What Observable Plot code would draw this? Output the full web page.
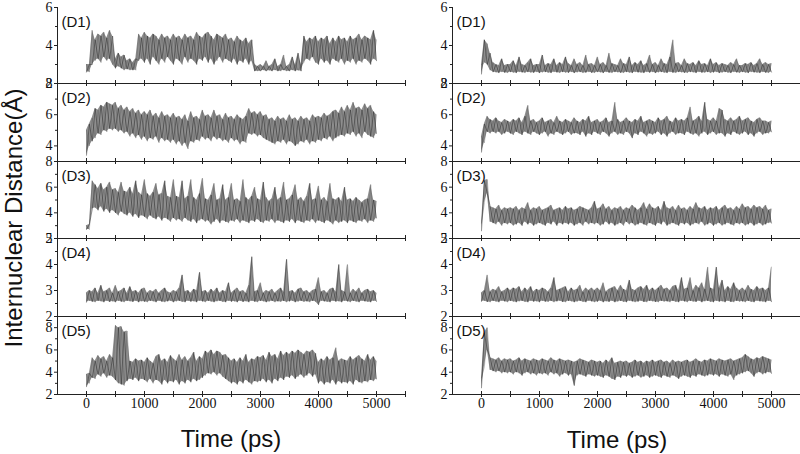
<!DOCTYPE html>
<html><head><meta charset="utf-8">
<script src="https://cdn.jsdelivr.net/npm/d3@7"></script>
<script src="https://cdn.jsdelivr.net/npm/@observablehq/plot@0.6"></script>
<style>
body{margin:0;background:#fff}
#chart{position:relative;width:800px;height:454px;overflow:hidden;background:#fff}
#chart svg{overflow:visible}
.panel{position:absolute}
</style>
</head><body><div id="chart"></div>
<script>
// ---- data: lower and upper edge of each noisy trace, read every 50 ps from 0 to 5000 ps ----
const timeStep = 50;
const time = d3.range(0, 5001, timeStep);
const panelLabels = ["(D1)", "(D2)", "(D3)", "(D4)", "(D5)"];
const yDomains = [[2, 6], [3, 8], [2, 8], [2, 5], [2, 9]];
const yTickLabels = [[2, 4, 6], [4, 6, 8], [2, 4, 6, 8], [2, 3, 4, 5], [2, 4, 6, 8]];
const yMinorTicks = [[3, 5], [3, 5, 7], [3, 5, 7], [2.5, 3.5, 4.5], [3, 5, 7, 9]];
const xTickLabels = [0, 1000, 2000, 3000, 4000, 5000];
const xMinorTicks = [0, 500, 1000, 1500, 2000, 2500, 3000, 3500, 4000, 4500, 5000, 5500];

const left_D1_lo = [2.6,2.6,3.0,3.2,3.3,3.1,3.4,3.2,3.3,3.0,
  2.8,2.9,2.8,2.7,2.75,2.7,2.7,2.7,3.2,3.3,
  3.1,3.3,3.0,3.4,3.2,3.0,3.3,3.1,3.4,3.2,
  3.0,3.3,3.2,3.0,3.4,3.1,3.3,3.2,3.0,3.3,
  3.2,3.4,3.1,3.3,3.0,3.2,3.4,3.1,3.3,3.2,
  3.1,3.3,3.0,3.2,3.1,3.3,3.0,3.2,2.65,2.65,
  2.65,2.7,2.65,2.68,2.65,2.7,2.65,2.65,2.7,2.65,
  2.65,2.7,2.65,2.68,2.65,3.1,3.3,3.2,3.4,3.1,
  3.0,3.3,3.1,3.2,3.0,3.3,3.2,3.1,3.3,3.0,
  3.2,3.1,3.3,3.0,3.2,3.1,3.3,3.2,3.0,3.3,
  3.2];
const left_D1_hi = [3.0,3.0,4.8,4.3,4.6,4.5,4.7,4.4,4.8,4.5,
  3.3,3.6,3.4,3.5,3.2,3.3,3.1,3.3,4.6,4.4,
  4.7,4.5,4.4,4.6,4.5,4.3,4.6,4.4,4.5,4.3,
  4.6,4.4,4.5,4.3,4.6,4.4,4.5,4.3,4.7,4.5,
  4.4,4.6,4.7,4.5,4.3,4.6,4.5,4.4,4.6,4.3,
  4.4,4.2,4.5,4.3,4.2,4.4,4.1,4.3,3.0,2.9,
  3.0,2.9,3.2,2.9,3.0,3.3,2.9,3.0,3.5,2.9,
  3.0,3.4,3.0,3.6,3.0,4.5,4.2,4.4,4.3,4.5,
  4.2,4.4,4.3,4.5,4.1,4.4,4.2,4.5,4.3,4.4,
  4.2,4.5,4.3,4.4,4.6,4.3,4.5,4.4,4.3,4.8,
  4.3];
const left_D2_lo = [3.4,4.0,4.3,4.5,4.8,4.7,5.0,4.9,5.1,5.0,
  5.1,4.9,5.0,4.8,4.9,4.6,4.8,4.5,4.7,4.4,
  4.6,4.3,4.5,4.4,4.6,4.2,4.5,4.3,4.4,4.2,
  4.4,4.1,4.3,4.0,4.2,3.8,4.3,4.2,4.4,4.3,
  4.6,4.4,4.5,4.3,4.6,4.4,4.5,4.3,4.4,4.2,
  4.5,4.3,4.4,4.1,4.3,4.2,4.8,4.7,4.8,4.6,
  4.7,4.5,4.4,4.3,4.2,4.1,4.3,4.2,4.4,4.1,
  4.3,4.2,4.0,4.1,4.3,4.2,4.4,4.1,4.3,4.2,
  4.4,4.3,4.5,4.4,4.6,4.3,4.5,4.6,4.7,4.6,
  4.8,4.7,4.9,4.6,4.8,4.5,4.9,4.7,4.6,4.5,
  4.8];
const left_D2_hi = [5.0,5.4,5.8,6.4,6.3,6.6,6.5,6.8,6.7,6.6,
  6.8,6.4,6.6,6.3,6.5,6.2,6.4,6.1,6.3,6.0,
  6.2,6.0,6.3,5.9,6.1,5.8,6.2,5.9,6.0,5.8,
  6.1,5.8,5.9,5.7,6.0,5.6,6.2,5.8,5.9,5.7,
  6.3,5.9,6.0,5.8,6.3,5.9,6.0,5.7,6.1,5.8,
  5.9,5.7,6.0,5.8,5.7,5.9,6.4,6.1,6.2,6.0,
  6.2,5.9,6.0,5.7,5.8,5.6,5.9,5.7,5.8,5.6,
  6.0,5.7,5.8,5.6,5.9,5.7,5.8,5.6,6.0,5.8,
  5.9,5.8,6.1,5.9,6.0,6.2,6.3,6.1,6.5,6.2,
  6.6,6.3,6.8,6.4,6.5,6.3,6.7,6.4,6.6,6.2,
  6.0];
const left_D3_lo = [2.7,2.7,4.3,4.4,4.2,4.5,4.1,4.3,4.0,4.2,
  4.0,3.8,4.1,3.9,3.8,4.0,3.7,3.9,3.6,3.8,
  3.7,3.5,3.8,3.6,3.5,3.7,3.4,3.6,3.5,3.3,
  3.6,3.4,3.5,3.3,3.6,3.4,3.3,3.5,3.2,3.4,
  3.5,3.3,3.4,3.1,3.3,3.5,3.2,3.4,3.3,3.2,
  3.4,3.3,3.5,3.2,3.4,3.3,3.2,3.4,3.3,3.5,
  3.3,3.2,3.4,3.3,3.5,3.2,3.4,3.3,3.2,3.4,
  3.3,3.5,3.2,3.4,3.3,3.2,3.4,3.3,3.5,3.2,
  3.4,3.3,3.2,3.4,3.3,3.1,3.4,3.2,3.3,3.4,
  3.2,3.4,3.3,3.2,3.4,3.3,3.5,3.2,3.4,3.3,
  3.6];
const left_D3_hi = [3.0,3.1,6.5,6.2,5.9,6.3,5.8,6.0,6.4,5.8,
  5.9,5.6,6.4,5.7,5.6,6.0,5.5,6.5,5.6,5.4,
  6.6,5.5,5.3,5.6,6.3,5.4,5.5,6.5,5.3,5.2,
  6.6,5.3,5.2,6.5,5.1,5.3,6.6,5.2,5.0,5.5,
  6.7,5.1,5.0,5.4,6.3,5.0,5.1,6.2,5.0,5.2,
  6.3,5.0,5.1,4.9,6.6,5.2,5.0,5.3,6.0,5.1,
  5.0,6.4,5.2,4.9,5.1,6.0,5.0,5.2,6.4,5.0,
  5.1,5.4,6.2,5.0,5.2,4.9,5.3,6.3,5.0,5.1,
  6.1,5.0,5.2,4.9,6.3,5.1,5.0,5.2,4.9,6.0,
  5.0,5.1,4.9,5.2,5.0,4.8,5.0,5.1,6.2,5.0,
  4.9];
const left_D4_lo = [2.55,2.6,2.57,2.55,2.6,2.58,2.55,2.6,2.56,2.58,
  2.55,2.6,2.57,2.55,2.6,2.58,2.56,2.6,2.55,2.58,
  2.57,2.55,2.6,2.58,2.55,2.6,2.57,2.55,2.58,2.6,
  2.55,2.58,2.6,2.56,2.55,2.6,2.57,2.58,2.55,2.6,
  2.58,2.55,2.6,2.57,2.55,2.58,2.6,2.56,2.55,2.6,
  2.57,2.58,2.55,2.6,2.56,2.58,2.55,2.6,2.57,2.55,
  2.6,2.58,2.55,2.57,2.6,2.55,2.58,2.56,2.6,2.55,
  2.58,2.6,2.55,2.57,2.6,2.56,2.58,2.55,2.6,2.57,
  2.45,2.6,2.58,2.56,2.55,2.6,2.57,2.58,2.55,2.6,
  2.58,2.55,2.6,2.57,2.55,2.6,2.58,2.56,2.55,2.6,
  2.58];
const left_D4_hi = [2.9,3.0,2.95,3.1,2.9,3.2,2.95,3.0,3.1,2.9,
  3.2,2.95,3.0,3.1,2.9,3.15,2.95,3.0,2.9,3.05,
  3.1,2.9,3.0,2.95,3.05,2.9,3.0,3.1,2.95,2.9,
  3.0,2.95,3.1,3.6,2.95,3.0,2.9,3.05,3.0,3.7,
  2.95,3.0,2.9,3.05,2.95,3.1,2.9,3.0,2.95,3.3,
  2.9,3.0,3.1,2.95,3.0,2.9,3.2,4.3,2.95,3.0,
  3.3,2.9,3.0,2.95,3.05,2.9,3.0,3.1,2.95,4.2,
  2.95,3.0,2.9,3.05,3.1,2.95,3.0,2.9,3.0,3.05,
  3.5,2.95,3.0,2.9,3.05,3.1,2.95,4.0,3.0,2.95,
  4.0,2.9,3.05,2.95,3.1,2.9,3.0,3.05,2.95,3.0,
  2.9];
const left_D5_lo = [2.7,3.0,3.5,3.4,3.8,3.6,3.9,3.5,3.7,3.6,
  3.3,3.0,2.9,2.8,3.2,3.4,3.3,3.5,3.2,3.4,
  3.3,3.1,3.4,3.0,3.3,3.2,2.9,3.3,3.0,3.2,
  3.1,3.3,2.9,3.2,3.0,3.3,3.1,3.4,3.2,3.3,
  3.5,3.7,3.9,3.8,4.0,3.7,3.9,3.6,3.4,3.2,
  3.0,3.1,2.9,3.2,3.0,3.3,3.1,2.9,3.2,3.1,
  3.2,3.4,3.1,3.3,3.0,3.4,3.2,3.5,3.3,3.6,
  3.5,3.7,3.4,3.6,3.8,3.5,3.7,3.9,3.6,3.8,
  3.0,3.2,2.9,3.1,3.0,3.3,2.9,3.2,3.0,3.1,
  3.0,3.2,2.9,3.3,3.1,3.0,3.2,3.1,3.3,3.2,
  3.4];
const left_D5_hi = [3.8,3.9,5.3,5.0,5.5,5.2,5.4,5.0,5.6,5.3,
  8.2,8.0,8.1,7.6,7.7,5.0,4.9,5.2,5.0,5.1,
  4.9,5.3,5.0,4.8,5.4,5.6,5.0,5.2,4.9,5.5,
  5.2,5.0,5.6,5.1,5.4,5.0,5.3,5.8,5.0,5.4,
  5.2,5.9,5.7,6.0,5.6,5.9,5.8,5.5,5.6,5.3,
  5.0,5.2,4.9,5.3,5.0,5.6,4.9,5.2,5.1,5.4,
  5.3,5.5,5.1,5.8,5.4,5.6,5.2,5.9,5.5,5.8,
  5.6,5.9,5.7,6.0,5.8,5.6,5.9,5.8,6.0,5.7,
  4.9,5.2,5.0,5.4,5.1,5.3,6.2,5.0,5.2,5.1,
  5.0,5.4,5.1,5.3,5.5,5.2,5.0,5.6,5.1,5.4,
  5.0];
const right_D1_lo = [2.5,3.1,3.0,2.7,2.6,2.58,2.55,2.6,2.57,2.55,
  2.6,2.57,2.55,2.6,2.58,2.55,2.6,2.57,2.56,2.6,
  2.55,2.58,2.6,2.56,2.55,2.6,2.58,2.55,2.6,2.57,
  2.56,2.6,2.55,2.58,2.6,2.55,2.57,2.6,2.56,2.55,
  2.6,2.58,2.55,2.6,2.57,2.55,2.6,2.58,2.56,2.55,
  2.6,2.57,2.55,2.6,2.58,2.56,2.55,2.6,2.57,2.6,
  2.55,2.58,2.6,2.56,2.55,2.6,2.57,2.55,2.6,2.58,
  2.56,2.55,2.6,2.58,2.55,2.6,2.57,2.56,2.6,2.55,
  2.58,2.6,2.55,2.57,2.6,2.56,2.55,2.6,2.58,2.55,
  2.6,2.57,2.55,2.6,2.58,2.56,2.55,2.6,2.57,2.55,
  2.6];
const right_D1_hi = [3.0,4.3,4.1,3.6,3.1,3.0,2.95,3.3,2.95,3.0,
  3.0,3.2,2.95,3.4,3.0,2.95,3.1,3.3,2.95,3.0,
  3.0,3.5,2.95,3.05,3.0,3.3,2.95,3.1,3.0,3.4,
  3.05,2.95,3.3,3.0,3.1,2.95,3.5,3.0,3.05,2.95,
  3.4,3.0,3.1,2.95,3.6,3.05,3.0,2.95,3.3,3.05,
  3.0,3.4,2.95,3.1,3.0,3.2,2.95,3.05,3.5,3.0,
  3.1,2.95,3.3,3.05,3.0,3.4,4.3,3.05,3.1,2.95,
  3.3,3.05,3.0,3.1,2.95,3.2,3.0,3.05,2.95,3.3,
  3.0,3.1,2.95,3.05,3.0,2.95,3.1,3.0,3.3,2.95,
  2.95,3.05,3.0,3.1,2.95,3.05,3.3,3.0,3.1,3.0,
  3.05];
const right_D2_lo = [3.6,4.2,4.9,4.8,4.9,4.8,4.9,4.7,4.8,4.9,
  4.8,4.7,4.9,4.8,4.7,4.9,4.8,4.7,4.9,4.8,
  4.7,4.8,4.9,4.6,4.8,4.7,4.9,4.8,4.7,4.8,
  4.9,4.7,4.8,4.8,4.7,4.9,4.6,4.8,4.7,4.9,
  4.8,4.7,4.9,4.8,4.6,4.8,4.9,4.7,4.8,4.7,
  4.9,4.8,4.5,4.8,4.7,4.9,4.8,4.6,4.8,4.7,
  4.8,4.9,4.7,4.8,4.6,4.8,4.9,4.7,4.8,4.8,
  4.7,4.9,4.8,4.7,4.8,4.6,4.8,4.9,4.7,4.8,
  4.9,4.7,4.8,4.8,4.6,4.8,4.7,4.9,4.8,4.7,
  4.8,4.9,4.7,4.8,4.6,4.8,4.9,4.7,4.8,4.8,
  4.9];
const right_D2_hi = [4.6,5.4,5.9,5.7,5.6,5.8,5.6,5.5,5.7,5.6,
  5.5,5.7,5.6,5.8,5.5,5.9,6.6,5.6,5.7,5.5,
  5.6,5.8,5.5,5.6,5.7,5.5,5.9,5.6,5.5,5.7,
  5.6,5.5,5.8,5.6,5.5,5.7,5.6,5.9,5.5,5.6,
  5.7,5.5,5.6,5.8,5.5,5.6,6.8,5.7,5.5,5.6,
  5.8,5.6,5.5,5.7,5.6,5.9,5.5,5.6,5.7,5.6,
  5.5,5.8,5.6,5.7,5.9,5.6,5.5,5.8,5.6,5.7,
  5.6,5.8,6.5,5.6,5.7,5.9,5.6,6.8,5.7,5.6,
  5.8,5.6,6.4,6.3,5.7,5.6,5.8,5.6,5.7,5.9,
  5.6,5.7,5.8,5.6,5.5,5.7,5.8,5.6,5.6,5.5,
  5.6];
const right_D3_lo = [2.6,4.8,5.5,3.3,3.2,3.1,3.3,3.0,3.2,3.1,
  3.2,3.0,3.1,3.2,3.0,3.3,3.1,3.2,3.0,3.1,
  3.2,3.1,3.0,3.2,3.1,3.3,3.0,3.2,3.1,3.2,
  3.1,3.2,3.0,3.1,3.2,3.0,3.3,3.1,3.2,3.1,
  3.2,3.0,3.1,3.3,3.1,3.2,3.0,3.1,3.2,3.0,
  3.3,3.1,3.2,3.0,3.1,3.2,3.1,3.0,3.2,3.1,
  3.0,3.2,3.1,3.3,3.0,3.1,3.2,3.1,3.0,3.2,
  3.1,3.2,3.0,3.1,3.2,3.1,3.3,3.0,3.1,3.2,
  3.0,3.1,3.2,3.0,3.1,3.2,3.1,3.0,3.2,3.1,
  3.2,3.0,3.1,3.2,3.0,3.1,3.2,3.0,3.1,3.2,
  3.2];
const right_D3_hi = [3.2,6.5,6.6,4.5,4.4,4.3,4.6,4.2,4.4,4.3,
  4.4,4.3,4.5,4.2,4.4,4.3,4.8,4.2,4.4,4.3,
  4.5,4.2,4.3,4.4,4.6,4.2,4.3,4.4,4.2,4.5,
  4.3,4.4,4.2,4.3,4.5,4.4,4.3,4.2,4.4,4.9,
  4.3,4.4,4.7,4.3,4.5,4.2,4.4,4.3,4.5,4.2,
  4.4,4.3,4.6,4.4,4.2,4.4,4.8,4.3,4.7,4.4,
  4.3,4.5,4.2,4.9,4.4,4.3,4.5,4.2,4.6,4.3,
  4.4,4.2,4.5,4.3,4.8,4.4,4.3,4.5,4.2,4.4,
  4.3,4.5,4.2,4.4,4.6,4.3,4.4,4.2,4.5,4.3,
  4.7,4.4,4.5,4.3,4.6,4.4,4.5,4.3,4.6,4.2,
  4.3];
const right_D4_lo = [2.58,2.6,2.56,2.55,2.6,2.57,2.55,2.6,2.58,2.55,
  2.6,2.57,2.55,2.58,2.6,2.56,2.55,2.6,2.57,2.58,
  2.55,2.6,2.57,2.56,2.6,2.55,2.58,2.6,2.56,2.55,
  2.6,2.58,2.55,2.57,2.6,2.56,2.55,2.6,2.58,2.55,
  2.57,2.6,2.55,2.58,2.56,2.6,2.55,2.57,2.6,2.56,
  2.55,2.6,2.58,2.55,2.57,2.6,2.56,2.55,2.6,2.58,
  2.56,2.55,2.6,2.57,2.58,2.55,2.6,2.56,2.55,2.6,
  2.58,2.55,2.6,2.57,2.56,2.6,2.55,2.58,2.6,2.56,
  2.55,2.6,2.57,2.58,2.55,2.6,2.56,2.55,2.6,2.57,
  2.58,2.55,2.6,2.56,2.55,2.6,2.58,2.57,2.55,2.6,
  2.57];
const right_D4_hi = [2.9,3.0,3.6,2.95,3.05,3.0,3.15,2.95,3.0,3.1,
  3.0,3.1,3.05,3.15,2.95,3.1,3.0,3.15,2.95,3.05,
  3.0,3.1,3.05,2.95,3.1,3.5,3.0,3.05,3.1,3.15,
  2.95,3.1,3.0,3.05,3.2,2.95,3.1,3.0,3.1,3.0,
  3.1,3.0,3.3,2.95,3.05,3.1,3.15,3.0,3.2,3.05,
  3.0,3.4,3.05,3.0,3.1,3.15,3.05,3.2,3.0,3.1,
  3.0,3.1,3.2,3.05,3.1,3.0,3.15,3.2,3.0,3.5,
  3.05,3.1,3.5,3.0,3.2,3.1,3.3,3.05,3.9,3.1,
  3.05,3.9,3.1,3.4,3.0,3.15,3.05,3.3,3.1,3.0,
  3.1,3.0,3.2,3.05,3.0,3.15,3.05,3.1,3.0,3.1,
  3.9];
const right_D5_lo = [2.6,4.5,6.0,4.2,4.1,4.0,4.1,3.9,4.0,3.9,
  4.0,3.8,4.0,3.9,3.7,3.9,4.0,3.8,3.9,3.7,
  3.9,3.8,3.9,3.7,4.0,3.8,3.9,3.6,3.8,3.9,
  3.7,3.8,2.8,3.7,3.8,3.7,3.6,3.8,3.7,3.6,
  3.7,3.6,3.5,3.7,3.6,3.4,3.3,3.6,3.5,3.7,
  3.6,3.7,3.5,3.6,3.7,3.5,3.6,3.7,3.5,3.6,
  3.7,3.6,3.5,3.7,3.6,3.5,3.7,3.6,3.4,3.6,
  3.7,3.6,3.5,3.7,3.6,3.8,3.7,3.6,3.7,3.8,
  3.7,3.8,3.6,3.8,3.7,3.6,3.8,3.3,3.7,3.8,
  3.9,4.0,4.1,3.9,3.6,3.9,4.0,3.8,3.9,4.0,
  3.9];
const right_D5_hi = [3.5,7.5,8.0,5.3,5.2,5.1,5.3,5.0,5.2,5.1,
  5.2,5.0,5.1,5.3,5.0,5.2,5.1,5.0,5.2,5.1,
  5.0,5.2,5.1,5.0,5.3,5.1,5.0,5.2,5.1,5.0,
  5.1,5.0,4.9,5.0,5.2,5.1,5.0,4.9,5.1,5.0,
  4.9,5.0,4.8,5.1,4.9,5.3,4.8,4.9,5.0,4.9,
  5.0,4.8,4.9,5.1,4.9,5.0,4.8,5.0,4.9,5.1,
  4.9,5.0,5.1,4.9,5.0,4.8,5.1,4.9,5.0,4.9,
  5.0,5.1,4.9,5.0,5.2,5.0,4.9,5.1,5.0,5.2,
  5.1,5.0,5.2,5.1,5.0,5.1,5.2,5.0,5.1,5.2,
  5.3,5.6,5.4,5.2,5.1,5.3,5.2,5.4,5.3,5.2,
  5.1];

const leftSeries = [[left_D1_lo, left_D1_hi], [left_D2_lo, left_D2_hi], [left_D3_lo, left_D3_hi], [left_D4_lo, left_D4_hi], [left_D5_lo, left_D5_hi]];
const rightSeries = [[right_D1_lo, right_D1_hi], [right_D2_lo, right_D2_hi], [right_D3_lo, right_D3_hi], [right_D4_lo, right_D4_hi], [right_D5_lo, right_D5_hi]];

// ---- layout ----
const panelTops = [7, 83, 161, 238, 316, 394];
const columns = [{axisX: 57, series: leftSeries}, {axisX: 452, series: rightSeries}];
const marginLeft = 30, plotW = 348, marginTop = 12, bottomMargin = 30;
const serif = "'Liberation Serif','Times New Roman',serif";
const sans = "'Liberation Sans',Arial,sans-serif";
const chart = document.getElementById("chart");

columns.forEach(col => {
  col.series.forEach(([lo, hi], i) => {
    const top = panelTops[i], h = panelTops[i + 1] - top;
    const isBottom = i === 4;
    const rows = lo.map((v, j) => ({t: time[j], lo: v, hi: hi[j]}));
    // trace drawn as a zigzag between the read lower / upper edges
    const trace = rows.map((r, j) => ({t: r.t, v: j % 2 ? r.hi : r.lo}));
    const trace2 = rows.map((r, j) => ({t: r.t, v: j % 2 ? r.lo : r.hi}));
    const marks = [
      Plot.areaY(rows, {x: "t", y1: "lo", y2: "hi", fill: "#8e8e8e", clip: true}),
      Plot.line(trace2, {x: "t", y: "v", stroke: "#5a5a5a", strokeWidth: 0.4, clip: true}),
      Plot.line(trace, {x: "t", y: "v", stroke: "#2a2a2a", strokeWidth: 0.5, clip: true}),
      Plot.axisY({ticks: yMinorTicks[i], tickSize: 2, tickFormat: () => "", label: null, stroke: "#222"}),
      Plot.axisY({ticks: yTickLabels[i], tickSize: 3, tickPadding: 2, tickFormat: d => String(d), label: null, fill: "#111", stroke: "#222"}),
      Plot.axisX({ticks: xMinorTicks, tickSize: 6, dy: -3, tickFormat: () => "", label: null, stroke: "#222"}),
      Plot.ruleX([-500], {stroke: "#222"}),
      Plot.ruleY([yDomains[i][0]], {stroke: "#222"}),
      Plot.text([panelLabels[i]], {frameAnchor: "top-left", textAnchor: "start", lineAnchor: "top", dx: 4, dy: 9, fill: "#111"})
    ];
    if (isBottom) {
      marks.push(Plot.axisX({ticks: xTickLabels, tickSize: 0, tickPadding: 4, tickFormat: d => String(d), label: null, fill: "#111"}));
    }
    const svg = Plot.plot({
      width: marginLeft + plotW,
      height: marginTop + h + (isBottom ? bottomMargin : 0),
      marginTop, marginBottom: isBottom ? bottomMargin : 0, marginLeft, marginRight: 0,
      x: {domain: [-500, 5500]},
      y: {domain: yDomains[i]},
      style: {background: "transparent", overflow: "visible"},
      marks
    });
    svg.classList.add("panel");
    svg.style.left = (col.axisX - marginLeft) + "px";
    svg.style.top = (top - marginTop) + "px";
    svg.querySelectorAll("text").forEach(t => {
      const isLabel = panelLabels.includes(t.textContent);
      t.style.fontFamily = isLabel ? sans : serif;
      t.style.fontSize = isLabel ? "15px" : "14px";
    });
    chart.appendChild(svg);
  });
});

// ---- titles ----
const ns = "http://www.w3.org/2000/svg";
const titles = document.createElementNS(ns, "svg");
titles.setAttribute("width", 800); titles.setAttribute("height", 454);
titles.style.position = "absolute"; titles.style.left = "0px"; titles.style.top = "0px";
titles.style.pointerEvents = "none";
function addText(str, x, y, rot) {
  const t = document.createElementNS(ns, "text");
  t.textContent = str;
  t.setAttribute("text-anchor", "middle");
  t.setAttribute("font-family", sans);
  t.setAttribute("font-size", "24");
  t.setAttribute("fill", "#111");
  t.setAttribute("transform", `translate(${x},${y})` + (rot ? ` rotate(${rot})` : ""));
  titles.appendChild(t);
}
addText("Internuclear Distance(Å)", 22, 218, -90);
addText("Time (ps)", 231, 447, 0);
addText("Time (ps)", 617, 448, 0);
chart.appendChild(titles);
</script>
</body></html>
